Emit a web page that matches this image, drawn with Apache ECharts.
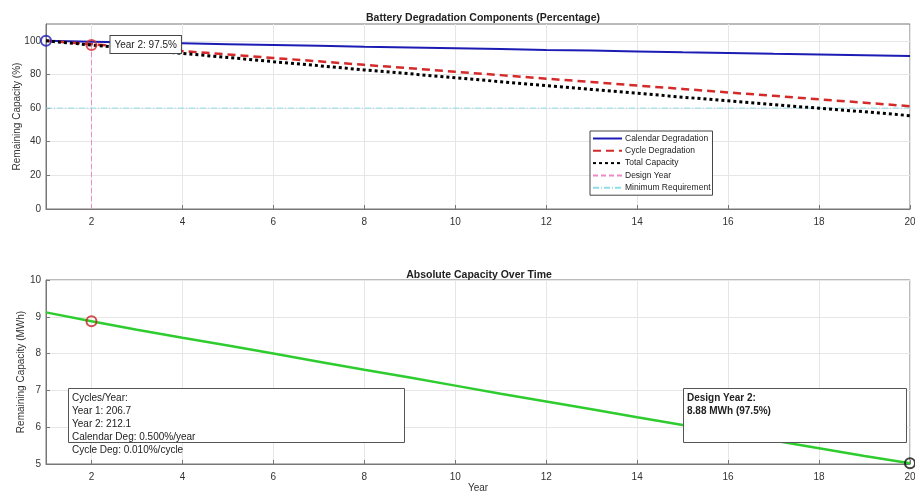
<!DOCTYPE html>
<html>
<head>
<meta charset="utf-8">
<script src="https://cdn.jsdelivr.net/npm/echarts@6/dist/echarts.min.js"></script>
<style>
  html, body { margin: 0; padding: 0; background: #fff; }
  #chart { width: 915px; height: 493px; }
</style>
</head>
<body>
<div id="chart"></div>
<script>
// values
const years = [1, 2, 3, 4, 5, 6, 7, 8, 9, 10, 11, 12, 13, 14, 15, 16, 17, 18, 19, 20];
const calendarPct = [100, 99.5, 99.0, 98.5, 98.0, 97.5, 97.0, 96.5, 96.1, 95.6, 95.1, 94.6, 94.2, 93.7, 93.2, 92.8, 92.3, 91.9, 91.4, 90.9];
const cyclePct = [100, 98.0, 96.0, 93.9, 91.9, 89.8, 87.8, 85.7, 83.7, 81.6, 79.6, 77.5, 75.5, 73.4, 71.4, 69.3, 67.3, 65.2, 63.2, 61.1];
const totalPct = [100, 97.5, 95.0, 92.5, 90.1, 87.6, 85.2, 82.7, 80.4, 78.0, 75.7, 73.3, 71.1, 68.8, 66.5, 64.3, 62.1, 59.9, 57.8, 55.5];
const capacityMWh = [9.12, 8.88, 8.65, 8.43, 8.22, 8.00, 7.78, 7.56, 7.35, 7.13, 6.91, 6.70, 6.49, 6.27, 6.06, 5.85, 5.64, 5.43, 5.22, 5.02];

const designYear = 2;
const minRequirement = 60;
const cyclesPerYear = [206.7, 212.1];
const calendarDeg = 0.5;   // %/year
const cycleDeg = 0.01;     // %/cycle

const xTicks = [2, 4, 6, 8, 10, 12, 14, 16, 18, 20];
const pctTicks = [0, 20, 40, 60, 80, 100];
const mwhTicks = [5, 6, 7, 8, 9, 10];

const font = 'Liberation Sans, Arial, sans-serif';
const pair = (xs, ys) => xs.map((x, i) => [x, ys[i]]);
const di = years.indexOf(designYear);

function xAxis(gridIndex, name) {
  return {
    type: 'value', gridIndex: gridIndex, min: 1, max: 20,
    name: name, nameLocation: 'middle', nameGap: 19,
    nameTextStyle: { fontFamily: font, fontSize: 10, color: '#333' },
    axisLine: { show: true, onZero: false, lineStyle: { color: '#777' } },
    axisTick: { show: true, inside: true, length: 4, customValues: xTicks, lineStyle: { color: '#777' } },
    axisLabel: { customValues: xTicks, fontFamily: font, fontSize: 10, color: '#333', margin: 8 },
    splitLine: { show: true, lineStyle: { color: '#e6e6e6' } }
  };
}

function yAxis(gridIndex, min, max, ticks, name, gap) {
  return {
    type: 'value', gridIndex: gridIndex, min: min, max: max,
    name: name, nameLocation: 'middle', nameGap: gap, nameMoveOverlap: false,
    nameTextStyle: { fontFamily: font, fontSize: 10, color: '#333' },
    axisLine: { show: true, lineStyle: { color: '#777' } },
    axisTick: { show: true, inside: true, length: 4, customValues: ticks, lineStyle: { color: '#777' } },
    axisLabel: { customValues: ticks, fontFamily: font, fontSize: 10, color: '#333', margin: 5 },
    splitLine: { show: true, lineStyle: { color: '#e6e6e6' } }
  };
}

const chart = echarts.init(document.getElementById('chart'));

const option = {
  backgroundColor: '#fff',
  animation: false,
  title: [
    { text: 'Battery Degradation Components (Percentage)', left: 478, top: 8, textAlign: 'center',
      textStyle: { fontFamily: font, fontSize: 10.5, fontWeight: 'bold', color: '#222' } },
    { text: 'Absolute Capacity Over Time', left: 474, top: 265, textAlign: 'center',
      textStyle: { fontFamily: font, fontSize: 10.5, fontWeight: 'bold', color: '#222' } }
  ],
  grid: [
    { left: 46, right: 5, top: 24, height: 185, containLabel: false, outerBoundsMode: 'none',
      show: true, borderColor: '#777', borderWidth: 1 },
    { left: 46, right: 5, top: 280, height: 184, containLabel: false, outerBoundsMode: 'none',
      show: true, borderColor: '#777', borderWidth: 1 }
  ],
  xAxis: [xAxis(0, ''), xAxis(1, 'Year')],
  yAxis: [
    yAxis(0, 0, 110, pctTicks, 'Remaining Capacity (%)', 24),
    yAxis(1, 5, 10, mwhTicks, 'Remaining Capacity (MWh)', 20)
  ],
  legend: {
    data: ['Calendar Degradation', 'Cycle Degradation', 'Total Capacity', 'Design Year', 'Minimum Requirement'],
    orient: 'vertical', left: 590, top: 131,
    itemWidth: 29, itemHeight: 8, itemGap: 3.3,
    padding: [3, 2, 3, 2],
    backgroundColor: '#fff', borderColor: '#444', borderWidth: 1,
    itemStyle: { opacity: 0 },
    textStyle: { fontFamily: font, fontSize: 8.5, color: '#222', padding: [0, 0, 0, -2] }
  },
  series: [
    { name: 'Calendar Degradation', type: 'line', xAxisIndex: 0, yAxisIndex: 0, symbol: 'none',
      data: pair(years, calendarPct), lineStyle: { color: '#1c1cb4', width: 2 }, itemStyle: { color: '#1c1cb4' }, z: 4 },
    { name: 'Cycle Degradation', type: 'line', xAxisIndex: 0, yAxisIndex: 0, symbol: 'none',
      data: pair(years, cyclePct), lineStyle: { color: '#d42a2a', width: 2.5, type: [8, 5] }, itemStyle: { color: '#d42a2a' }, z: 4 },
    { name: 'Total Capacity', type: 'line', xAxisIndex: 0, yAxisIndex: 0, symbol: 'none',
      data: pair(years, totalPct), lineStyle: { color: '#000', width: 3, type: [3, 3] }, itemStyle: { color: '#000' }, z: 5 },
    { name: 'Design Year', type: 'line', xAxisIndex: 0, yAxisIndex: 0, symbol: 'none',
      data: [[designYear, 0], [designYear, totalPct[di]]],
      lineStyle: { color: '#ee88cc', width: 1, type: [5, 3] }, itemStyle: { color: '#ee88cc' }, z: 3 },
    { name: 'Minimum Requirement', type: 'line', xAxisIndex: 0, yAxisIndex: 0, symbol: 'none',
      data: [[1, minRequirement], [20, minRequirement]],
      lineStyle: { color: '#8fdcea', width: 1, type: [6, 2, 1, 2] }, itemStyle: { color: '#8fdcea' }, z: 3 },
    { type: 'scatter', xAxisIndex: 0, yAxisIndex: 0, symbol: 'circle', symbolSize: 10,
      data: [[years[0], totalPct[0]]],
      itemStyle: { color: 'rgba(0,0,0,0)', borderColor: '#1c1cb4', borderWidth: 2 }, z: 6 },
    { type: 'scatter', xAxisIndex: 0, yAxisIndex: 0, symbol: 'circle', symbolSize: 10,
      data: [[designYear, totalPct[di]]],
      itemStyle: { color: 'rgba(0,0,0,0)', borderColor: '#d42a2a', borderWidth: 2 }, z: 6 },
    { type: 'line', xAxisIndex: 1, yAxisIndex: 1, symbol: 'none',
      data: pair(years, capacityMWh), lineStyle: { color: '#2fcc2f', width: 2.5 }, z: 4 },
    { type: 'scatter', xAxisIndex: 1, yAxisIndex: 1, symbol: 'circle', symbolSize: 10,
      data: [[designYear, capacityMWh[di]]],
      itemStyle: { color: 'rgba(0,0,0,0)', borderColor: '#c42222', borderWidth: 2 }, z: 6 },
    { type: 'scatter', xAxisIndex: 1, yAxisIndex: 1, symbol: 'circle', symbolSize: 10,
      data: [[years[years.length - 1], capacityMWh[capacityMWh.length - 1]]],
      itemStyle: { color: 'rgba(0,0,0,0)', borderColor: '#111', borderWidth: 2 }, z: 6 }
  ]
};

chart.setOption(option);

// annotation boxes; the year-2 note follows its data point
const p = chart.convertToPixel({ gridIndex: 0 }, [designYear, totalPct[di]]);
chart.setOption({
  graphic: [
    { type: 'text', x: p[0] + 19, y: p[1] - 9, z: 100,
      style: {
        text: 'Year ' + designYear + ': ' + totalPct[di].toFixed(1) + '%',
        font: '10px ' + font, fill: '#222',
        backgroundColor: '#fff', borderColor: '#444', borderWidth: 1, padding: [4, 4, 3, 4]
      } },
    { type: 'rect', left: 68, top: 388, z: 100,
      shape: { width: 336, height: 54 },
      style: { fill: '#fff', stroke: '#555', lineWidth: 1 } },
    { type: 'text', left: 72, top: 392, z: 101,
      style: {
        text: 'Cycles/Year:\nYear 1: ' + cyclesPerYear[0].toFixed(1) + '\nYear 2: ' + cyclesPerYear[1].toFixed(1) +
          '\nCalendar Deg: ' + calendarDeg.toFixed(3) + '%/year\nCycle Deg: ' + cycleDeg.toFixed(3) + '%/cycle',
        font: '10px ' + font, lineHeight: 13, fill: '#222'
      } },
    { type: 'rect', left: 683, top: 388, z: 100,
      shape: { width: 223, height: 54 },
      style: { fill: '#fff', stroke: '#555', lineWidth: 1 } },
    { type: 'text', left: 687, top: 392, z: 101,
      style: {
        text: 'Design Year ' + designYear + ':\n' + capacityMWh[di].toFixed(2) + ' MWh (' + totalPct[di].toFixed(1) + '%)',
        font: 'bold 10px ' + font, lineHeight: 13, fill: '#222'
      } }
  ]
});
</script>
</body>
</html>
